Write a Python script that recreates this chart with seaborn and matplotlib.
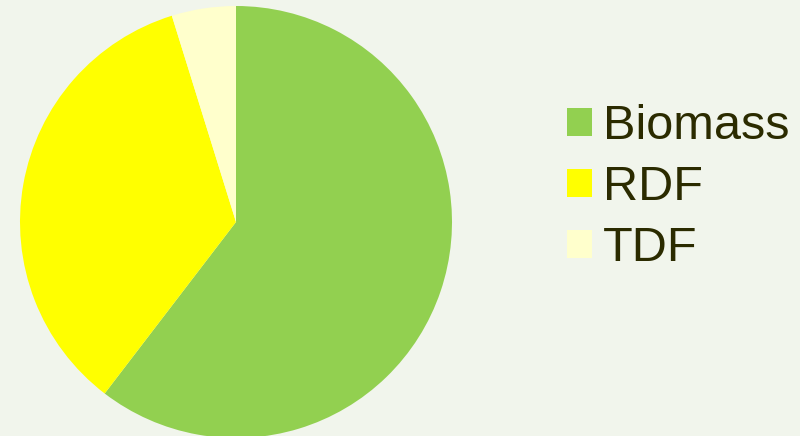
import matplotlib
matplotlib.use("Agg")
import matplotlib.pyplot as plt
import seaborn as sns
from matplotlib.patches import Patch

categories = ["Biomass", "RDF", "TDF"]
values = [60.4, 34.8, 4.8]
colors = ["#92D050", "#FFFF00", "#FFFFCC"]

sns.set_style("white")
plt.rcParams['font.family'] = ['Liberation Sans', 'DejaVu Sans']
palette = sns.color_palette(colors)

bg = "#F1F5EC"
fig = plt.figure(figsize=(8, 4.36), dpi=100, facecolor=bg)
ax = fig.add_axes([20/800, -2/436, 432/800, 432/436])
ax.set_facecolor(bg)
ax.pie(values, colors=palette, startangle=90, counterclock=False, radius=1.0,
       wedgeprops=dict(linewidth=0))
ax.set_xlim(-1, 1)
ax.set_ylim(-1, 1)
ax.set_aspect('equal')
ax.axis('off')

handles = [Patch(facecolor=c, edgecolor='none', label=l) for c, l in zip(palette, categories)]
fig.legend(handles=handles, loc='upper left', bbox_to_anchor=(567/800, 1 - 104/436),
           frameon=False, fontsize=35, handlelength=0.52, handleheight=0.52,
           handletextpad=0.22, labelspacing=0.33, labelcolor='#2B2B00',
           borderpad=0, borderaxespad=0)

fig.savefig("out.png", dpi=100, facecolor=bg)
